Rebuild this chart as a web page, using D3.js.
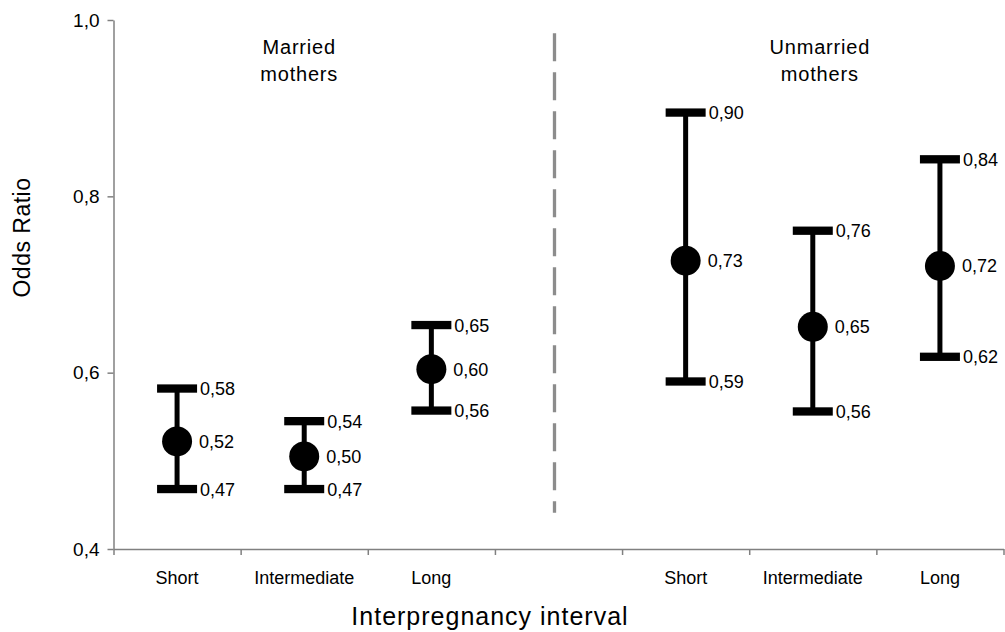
<!DOCTYPE html>
<html>
<head>
<meta charset="utf-8">
<script src="https://cdn.jsdelivr.net/npm/d3@7"></script>
<style>
  html, body { margin: 0; padding: 0; background: #fff; }
  svg { display: block; font-family: "Liberation Sans", Arial, sans-serif; }
</style>
</head>
<body>
<svg id="chart" width="1005" height="632"></svg>
<script>
// ---- data ----
const categories = ["Short", "Intermediate", "Long", "", "Short", "Intermediate", "Long"];
const groupLabels = [["Married", "mothers"], ["Unmarried", "mothers"]];
// index into categories for each estimate
const pointIndex = [0, 1, 2, 4, 5, 6];
const pointValues = [0.522, 0.505, 0.604, 0.727, 0.652, 0.721];
const lowerValues = [0.468, 0.468, 0.557, 0.590, 0.556, 0.618];
const upperValues = [0.582, 0.545, 0.654, 0.895, 0.761, 0.842];
const pointLabels = ["0,52", "0,50", "0,60", "0,73", "0,65", "0,72"];
const lowerLabels = ["0,47", "0,47", "0,56", "0,59", "0,56", "0,62"];
const upperLabels = ["0,58", "0,54", "0,65", "0,90", "0,76", "0,84"];
const yTicks = [0.4, 0.6, 0.8, 1.0];
const yTickLabels = ["0,4", "0,6", "0,8", "1,0"];
const dividerRange = [0.985, 0.441];
const yTitle = "Odds Ratio";
const xTitle = "Interpregnancy interval";

// ---- layout ----
const svg = d3.select("#chart");
const mLeft = 113.5, mRight = 1003.5, mTop = 20, mBottom = 549;

const x = d3.scaleLinear().domain([0, categories.length]).range([mLeft, mRight]);
const y = d3.scaleLinear().domain([0.4, 1.0]).range([mBottom, mTop]);
const axisColor = "#808080";

// Y axis
const yAxis = svg.append("g")
  .attr("transform", `translate(${mLeft},0)`)
  .call(d3.axisLeft(y).tickValues(yTicks)
    .tickFormat((d, i) => yTickLabels[i])
    .tickSize(6).tickSizeOuter(0).tickPadding(8));
yAxis.select(".domain").attr("stroke", axisColor).attr("stroke-width", 1.5);
yAxis.selectAll(".tick line").attr("stroke", axisColor).attr("stroke-width", 1.5);
yAxis.selectAll(".tick text").attr("fill", "#000").style("font-size", "19px")
  .style("font-family", "'Liberation Sans', Arial, sans-serif");

// X axis (ticks at category boundaries)
const xAxis = svg.append("g")
  .attr("transform", `translate(0,${mBottom})`)
  .call(d3.axisBottom(x).tickValues(d3.range(categories.length + 1))
    .tickFormat("").tickSize(6).tickSizeOuter(0));
xAxis.select(".domain").attr("stroke", axisColor).attr("stroke-width", 1.5);
xAxis.selectAll(".tick line").attr("stroke", axisColor).attr("stroke-width", 1.5);

// Category labels
svg.append("g").selectAll("text").data(categories).join("text")
  .attr("x", (d, i) => x(i + 0.5))
  .attr("y", 584)
  .attr("text-anchor", "middle")
  .style("font-size", "18px")
  .attr("fill", "#000")
  .text(d => d);

// Divider dashed line
svg.append("line")
  .attr("x1", x(3.5) - 4).attr("x2", x(3.5) - 4)
  .attr("y1", y(dividerRange[0])).attr("y2", y(dividerRange[1]))
  .attr("stroke", "#8c8c8c").attr("stroke-width", 3.3)
  .attr("stroke-dasharray", "28,11");

// Group labels
const groupX = [x(1.5) - 5, x(5.5) + 7];
groupLabels.forEach((lines, gi) => {
  const t = svg.append("text")
    .attr("text-anchor", "middle")
    .style("font-size", "20px")
    .style("letter-spacing", "0.8px")
    .attr("fill", "#000");
  lines.forEach((ln, li) => {
    t.append("tspan").attr("x", groupX[gi]).attr("y", 54 + li * 27).text(ln);
  });
});

// Error bars
const capW = 40, capH = 8.3;
const g = svg.append("g");
pointIndex.forEach((ci, k) => {
  const cx = x(ci + 0.5);
  g.append("line")
    .attr("x1", cx).attr("x2", cx)
    .attr("y1", y(upperValues[k])).attr("y2", y(lowerValues[k]))
    .attr("stroke", "#000").attr("stroke-width", 5);
  [upperValues[k], lowerValues[k]].forEach(v => {
    g.append("rect")
      .attr("x", cx - capW / 2).attr("y", y(v) - capH / 2)
      .attr("width", capW).attr("height", capH)
      .attr("fill", "#000");
  });
  g.append("circle").attr("cx", cx).attr("cy", y(pointValues[k])).attr("r", 15).attr("fill", "#000");

  const labs = [[upperValues[k], upperLabels[k], 23], [pointValues[k], pointLabels[k], 22], [lowerValues[k], lowerLabels[k], 23]];
  labs.forEach(([v, s, dx]) => {
    g.append("text")
      .attr("x", cx + dx).attr("y", y(v))
      .attr("dy", "0.36em")
      .style("font-size", "18px")
      .attr("fill", "#000")
      .text(s);
  });
});

// Axis titles
svg.append("text")
  .attr("transform", `translate(30,${(178 + 297) / 2}) rotate(-90)`)
  .attr("text-anchor", "middle")
  .style("font-size", "23px")
  .style("letter-spacing", "0.5px")
  .attr("fill", "#000")
  .text(yTitle);

svg.append("text")
  .attr("x", 490).attr("y", 625)
  .attr("text-anchor", "middle")
  .style("font-size", "25px")
  .style("letter-spacing", "1px")
  .attr("fill", "#000")
  .text(xTitle);
</script>
</body>
</html>
